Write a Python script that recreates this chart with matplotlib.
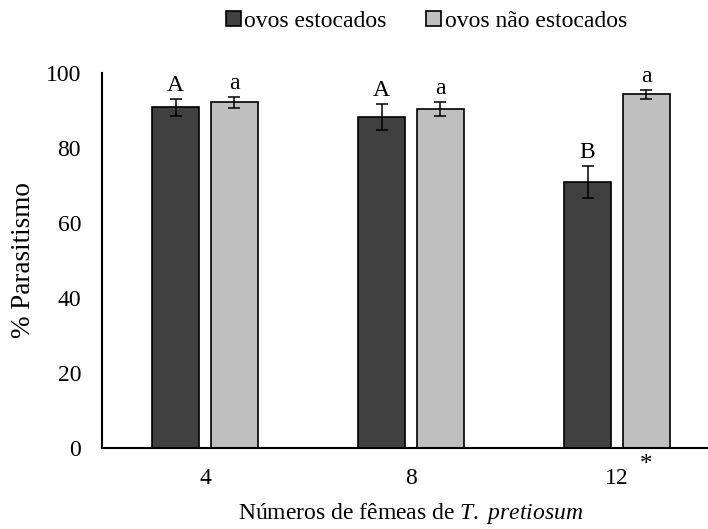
import matplotlib.pyplot as plt
import numpy as np

# parasitism per number of T. pretiosum females
females = ["4", "8", "12"]
stored = [90.9, 88.2, 71.0]
stored_err = [2.3, 3.5, 4.2]
not_stored = [92.2, 90.5, 94.3]
not_stored_err = [1.5, 1.9, 1.2]
stored_letters = ["A", "A", "B"]
not_stored_letters = ["a", "a", "a"]

plt.rcParams["font.family"] = ["Liberation Serif", "DejaVu Serif"]
plt.rcParams["mathtext.fontset"] = "custom"
plt.rcParams["mathtext.rm"] = "Liberation Serif"
plt.rcParams["mathtext.it"] = "Liberation Serif:italic"

FS = 17

fig = plt.figure(figsize=(7.08, 5.29), dpi=100)
ax = fig.add_axes([0.144, 0.153, 1.017 - 0.144, 0.862 - 0.153])

x = np.arange(len(females))
width = 0.228
offset = 0.143

err_kw = dict(elinewidth=1.1, capthick=1.1, ecolor="black")
bars1 = ax.bar(x - offset, stored, width, yerr=stored_err, capsize=4.5,
               color="#404040", edgecolor="black", linewidth=1.2,
               error_kw=err_kw, label="ovos estocados")
bars2 = ax.bar(x + offset, not_stored, width, yerr=not_stored_err, capsize=4.5,
               color="#bfbfbf", edgecolor="black", linewidth=1.2,
               error_kw=err_kw, label="ovos não estocados")

for xi, v, e, t in zip(x - offset, stored, stored_err, stored_letters):
    ax.annotate(t, (xi, v + e), xytext=(0, 2), textcoords="offset points",
                ha="center", va="bottom", fontsize=FS)
for xi, v, e, t in zip(x + offset, not_stored, not_stored_err, not_stored_letters):
    ax.annotate(t, (xi, v + e), xytext=(0, 2), textcoords="offset points",
                ha="center", va="bottom", fontsize=FS)

# significant difference between egg types at 12 females
ax.annotate("*", (x[2] + offset, 0), xytext=(0, -4), textcoords="offset points",
            ha="center", va="top", fontsize=FS + 1)

ax.set_xlim(-0.5, 2.5)
ax.set_ylim(0, 100)
ax.set_yticks([0, 20, 40, 60, 80, 100])
ax.set_xticks(x)
ax.set_xticklabels(females)
ax.tick_params(axis="y", length=0, pad=15, labelsize=FS)
ax.tick_params(axis="x", length=0, pad=14, labelsize=FS)
for s in ["top", "right"]:
    ax.spines[s].set_visible(False)
ax.spines["left"].set_linewidth(1.5)
ax.spines["bottom"].set_linewidth(1.5)

ax.set_ylabel("% Parasitismo", fontsize=19.5, labelpad=7)
ax.set_xlabel("Números de fêmeas de $\\it{T.\\ pretiosum}$", fontsize=FS, labelpad=9)

fig.legend(handles=[bars1, bars2], loc="center", bbox_to_anchor=(0.602, 0.960),
           ncol=2, frameon=False, fontsize=FS, handlelength=0.64, handleheight=0.64,
           handletextpad=0.13, columnspacing=1.7, borderpad=0.2)

fig.savefig("out.png", dpi=100)
